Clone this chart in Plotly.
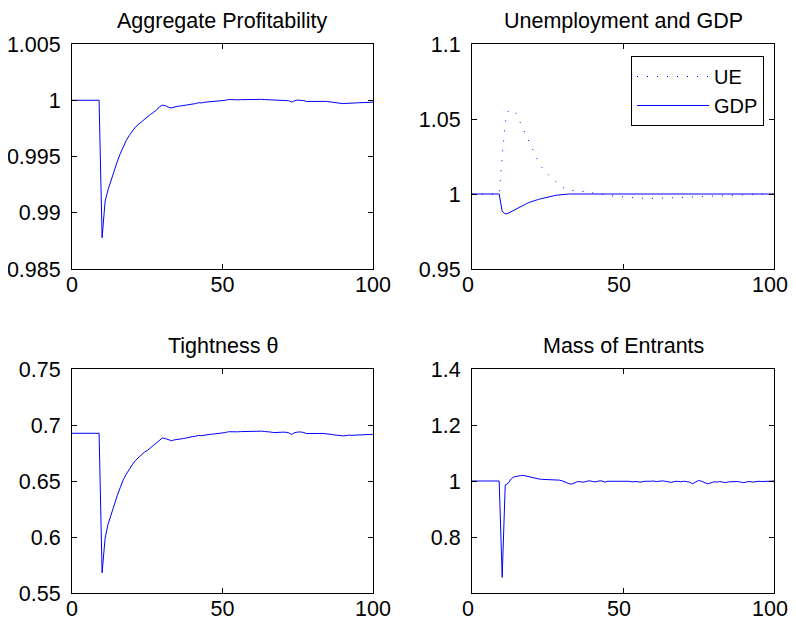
import plotly.graph_objects as go

periods = list(range(0, 101))

profitability = [
    1.0, 1.0, 1.0, 1.0, 1.0, 1.0, 1.0, 1.0, 1.0, 1.0,
    0.98778, 0.99102, 0.99206, 0.99295, 0.99378, 0.99452, 0.99523, 0.99591, 0.99641, 0.99686,
    0.99724, 0.99760, 0.99784, 0.99807, 0.99834, 0.99849, 0.99873, 0.99891, 0.99911, 0.99940,
    0.99956, 0.99952, 0.99938, 0.99932, 0.99940, 0.99946, 0.99949, 0.99952, 0.99956, 0.99964,
    0.99967, 0.99970, 0.99978, 0.99976, 0.99982, 0.99984, 0.99986, 0.99987, 0.99988, 0.99990,
    0.99995, 1.00000, 1.00006, 1.00004, 1.00006, 1.00004, 1.00005, 1.00006, 1.00006, 1.00005,
    1.00007, 1.00008, 1.00009, 1.00008, 1.00006, 1.00005, 1.00002, 0.99998, 1.00000, 0.99999,
    1.00001, 1.00000, 0.99996, 0.99984, 0.99997, 1.00001, 1.00002, 0.99997, 0.99989, 0.99990,
    0.99992, 0.99991, 0.99990, 0.99991, 0.99990, 0.99988, 0.99984, 0.99979, 0.99975, 0.99972,
    0.99970, 0.99972, 0.99976, 0.99974, 0.99976, 0.99978, 0.99977, 0.99979, 0.99981, 0.99980,
    0.99983,
]

unemployment = [
    1.0, 1.0, 1.0, 1.0, 1.0, 1.0, 1.0, 1.0, 1.0, 1.0,
    1.0240, 1.0480, 1.0553, 1.0560, 1.0558, 1.0525, 1.0475, 1.0430, 1.0390, 1.0340,
    1.0295, 1.0248, 1.0215, 1.0180, 1.0155, 1.0130, 1.0112, 1.0095, 1.0078, 1.0060,
    1.0044, 1.0030, 1.0025, 1.0024, 1.0024, 1.0022, 1.0020, 1.0017, 1.0015, 1.0011,
    1.0007, 1.0004, 1.0001, 0.9998, 0.9995, 0.9992, 0.9989, 0.9986, 0.9984, 0.9982,
    0.9981, 0.9979, 0.9977, 0.9975, 0.9973, 0.9972, 0.9971, 0.9970, 0.9970, 0.9970,
    0.9970, 0.9970, 0.9971, 0.9971, 0.9972, 0.9973, 0.9974, 0.9975, 0.9976, 0.9977,
    0.9978, 0.9979, 0.9980, 0.9981, 0.9982, 0.9983, 0.9984, 0.9985, 0.9986, 0.9986,
    0.9987, 0.9988, 0.9988, 0.9989, 0.9990, 0.9990, 0.9991, 0.9992, 0.9993, 0.9994,
    0.9995, 0.9996, 0.9996, 0.9997, 0.9998, 0.9998, 0.9999, 0.9999, 1.0000, 1.0000,
    1.0000,
]

gdp = [
    1.0, 1.0, 1.0, 1.0, 1.0, 1.0, 1.0, 1.0, 1.0, 1.0,
    0.9885, 0.9867, 0.9872, 0.9883, 0.9896, 0.9906, 0.9916, 0.9926, 0.9935, 0.9944,
    0.9952, 0.9958, 0.9964, 0.9969, 0.9975, 0.9979, 0.9984, 0.9988, 0.9992, 0.9995,
    0.9997, 0.9999, 1.0000, 1.0000, 1.0000, 1.0001, 1.0001, 1.0001, 1.0001, 1.0001,
    1.0001, 1.0002, 1.0002, 1.0002, 1.0002, 1.0002, 1.0002, 1.0002, 1.0002, 1.0002,
    1.0002, 1.0002, 1.0002, 1.0002, 1.0002, 1.0002, 1.0002, 1.0002, 1.0002, 1.0002,
    1.0002, 1.0002, 1.0002, 1.0002, 1.0002, 1.0002, 1.0002, 1.0001, 1.0001, 1.0001,
    1.0001, 1.0001, 1.0001, 1.0001, 1.0001, 1.0001, 1.0001, 1.0001, 1.0001, 1.0001,
    1.0001, 1.0001, 1.0000, 1.0000, 1.0000, 1.0000, 1.0000, 1.0000, 1.0000, 1.0000,
    1.0000, 1.0000, 1.0000, 1.0000, 1.0000, 1.0000, 1.0000, 1.0000, 1.0000, 1.0000,
    1.0000,
]

tightness = [
    0.6926, 0.6926, 0.6926, 0.6926, 0.6926, 0.6926, 0.6926, 0.6926, 0.6926, 0.6926,
    0.5680, 0.5990, 0.6116, 0.6207, 0.6292, 0.6367, 0.6439, 0.6509, 0.6560, 0.6606,
    0.6644, 0.6681, 0.6706, 0.6729, 0.6757, 0.6772, 0.6796, 0.6815, 0.6838, 0.6868,
    0.6884, 0.6879, 0.6866, 0.6860, 0.6867, 0.6873, 0.6876, 0.6879, 0.6884, 0.6892,
    0.6896, 0.6899, 0.6907, 0.6905, 0.6911, 0.6914, 0.6917, 0.6919, 0.6921, 0.6923,
    0.6928, 0.6933, 0.6940, 0.6938, 0.6941, 0.6939, 0.6941, 0.6942, 0.6942, 0.6941,
    0.6943, 0.6944, 0.6946, 0.6945, 0.6942, 0.6941, 0.6937, 0.6932, 0.6935, 0.6934,
    0.6936, 0.6935, 0.6930, 0.6916, 0.6932, 0.6937, 0.6938, 0.6932, 0.6923, 0.6924,
    0.6926, 0.6925, 0.6924, 0.6925, 0.6924, 0.6922, 0.6917, 0.6912, 0.6908, 0.6905,
    0.6903, 0.6905, 0.6910, 0.6908, 0.6910, 0.6912, 0.6911, 0.6913, 0.6915, 0.6914,
    0.6917,
]

entrants = [
    1.0, 1.0, 1.0, 1.0, 1.0, 1.0, 1.0, 1.0, 1.0, 1.0,
    0.656, 0.986, 0.992, 1.008, 1.015, 1.018, 1.019, 1.020, 1.017, 1.014,
    1.0115, 1.009, 1.0075, 1.006, 1.0054, 1.004, 1.003, 1.003, 1.004, 1.003,
    1.000, 0.995, 0.991, 0.989, 0.9935, 0.998, 0.997, 0.996, 0.999, 1.0006,
    0.998, 0.997, 1.000, 1.0006, 0.996, 0.999, 0.999, 0.998, 0.999, 0.999,
    0.998, 0.999, 0.999, 0.997, 0.998, 0.997, 0.996, 0.999, 0.998, 0.999,
    1.000, 0.998, 0.999, 1.0006, 0.999, 0.997, 0.995, 0.998, 0.999, 0.997,
    0.999, 0.998, 0.996, 0.990, 0.996, 1.002, 0.999, 0.995, 0.990, 0.993,
    0.997, 0.996, 0.998, 0.996, 0.994, 0.997, 0.998, 0.999, 0.998, 0.996,
    0.994, 0.997, 0.998, 0.996, 0.998, 0.999, 0.998, 0.999, 0.999, 1.001,
    1.000,
]

titles = ["Aggregate Profitability", "Unemployment and GDP", "Tightness θ", "Mass of Entrants"]
x_ticks = [0, 50, 100]
x_ticklabels = ["0", "50", "100"]
y1_ticks = [0.985, 0.99, 0.995, 1.0, 1.005]
y1_labels = ["0.985", "0.99", "0.995", "1", "1.005"]
y2_ticks = [0.95, 1.0, 1.05, 1.1]
y2_labels = ["0.95", "1", "1.05", "1.1"]
y3_ticks = [0.55, 0.6, 0.65, 0.7, 0.75]
y3_labels = ["0.55", "0.6", "0.65", "0.7", "0.75"]
y4_ticks = [0.8, 1.0, 1.2, 1.4]
y4_labels = ["0.8", "1", "1.2", "1.4"]

# the page body has an 8px margin on every side: size the figure to fit inside it
OFF = 8
W, H = 796 - 2 * OFF, 628 - 2 * OFF
FONT = "Liberation Sans, Arial, Helvetica, sans-serif"
FS = 21.5
BLUE = "#0000FF"


def px(X):
    return (X - OFF) / W


def py(Y):
    return 1 - (Y - OFF) / H


dom_x = [[px(72), px(373)], [px(472), px(774)]]
dom_y_top = [py(269), py(44)]
dom_y_bot = [py(593), py(369)]

fig = go.Figure()
fig.add_trace(go.Scatter(x=periods, y=profitability, mode="lines", line=dict(color=BLUE, width=1),
                         xaxis="x", yaxis="y", showlegend=False))
fig.add_trace(go.Scatter(x=periods, y=unemployment, mode="lines", name="UE",
                         line=dict(color=BLUE, width=1, dash="1px,9px"), xaxis="x2", yaxis="y2"))
fig.add_trace(go.Scatter(x=periods, y=gdp, mode="lines", name="GDP",
                         line=dict(color=BLUE, width=1), xaxis="x2", yaxis="y2"))
fig.add_trace(go.Scatter(x=periods, y=tightness, mode="lines", line=dict(color=BLUE, width=1),
                         xaxis="x3", yaxis="y3", showlegend=False))
fig.add_trace(go.Scatter(x=periods, y=entrants, mode="lines", line=dict(color=BLUE, width=1),
                         xaxis="x4", yaxis="y4", showlegend=False))


def xax(domain, anchor, shift=0):
    return dict(domain=domain, anchor=anchor, range=[0, 100], tickvals=x_ticks, ticktext=x_ticklabels,
                showline=True, mirror="ticks", linecolor="black", linewidth=1, ticks="inside",
                ticklen=5, tickcolor="black", showgrid=False, zeroline=False, automargin=False,
                ticklabeloverflow="allow", ticklabelshift=shift,
                tickfont=dict(family=FONT, size=FS, color="black"), ticklabelstandoff=-4)


def yax(domain, anchor, rng, tv, tt):
    return dict(domain=domain, anchor=anchor, range=rng, tickvals=tv, ticktext=tt,
                showline=True, mirror="ticks", linecolor="black", linewidth=1, ticks="inside",
                ticklen=5, tickcolor="black", showgrid=False, zeroline=False, automargin=False,
                ticklabeloverflow="allow",
                tickfont=dict(family=FONT, size=FS, color="black"), ticklabelstandoff=6)


annotations = []
centers = [((dom_x[0][0] + dom_x[0][1]) / 2, py(21)),
           ((dom_x[1][0] + dom_x[1][1]) / 2, py(21)),
           ((dom_x[0][0] + dom_x[0][1]) / 2, py(346)),
           ((dom_x[1][0] + dom_x[1][1]) / 2, py(346))]
for t, (cx, cy) in zip(titles, centers):
    annotations.append(dict(text=t, x=cx, y=cy, xref="paper", yref="paper", showarrow=False,
                            xanchor="center", yanchor="middle",
                            font=dict(family=FONT, size=FS, color="black")))

fig.update_layout(
    template="none",
    width=W, height=H, margin=dict(l=0, r=0, t=0, b=0, pad=0),
    paper_bgcolor="white", plot_bgcolor="white",
    xaxis=xax(dom_x[0], "y"),
    yaxis=yax(dom_y_top, "x", [0.985, 1.005], y1_ticks, y1_labels),
    xaxis2=xax(dom_x[1], "y2", shift=-4),
    yaxis2=yax(dom_y_top, "x2", [0.95, 1.1], y2_ticks, y2_labels),
    xaxis3=xax(dom_x[0], "y3"),
    yaxis3=yax(dom_y_bot, "x3", [0.55, 0.75], y3_ticks, y3_labels),
    xaxis4=xax(dom_x[1], "y4", shift=-4),
    yaxis4=yax(dom_y_bot, "x4", [0.6, 1.4], y4_ticks, y4_labels),
    annotations=annotations,
    showlegend=True,
    legend=dict(x=px(764), y=py(56), xanchor="right", yanchor="top",
                bordercolor="black", borderwidth=1, bgcolor="white",
                font=dict(family=FONT, size=20, color="black"),
                itemwidth=72, tracegroupgap=0),
)

fig.write_html("out.html")
